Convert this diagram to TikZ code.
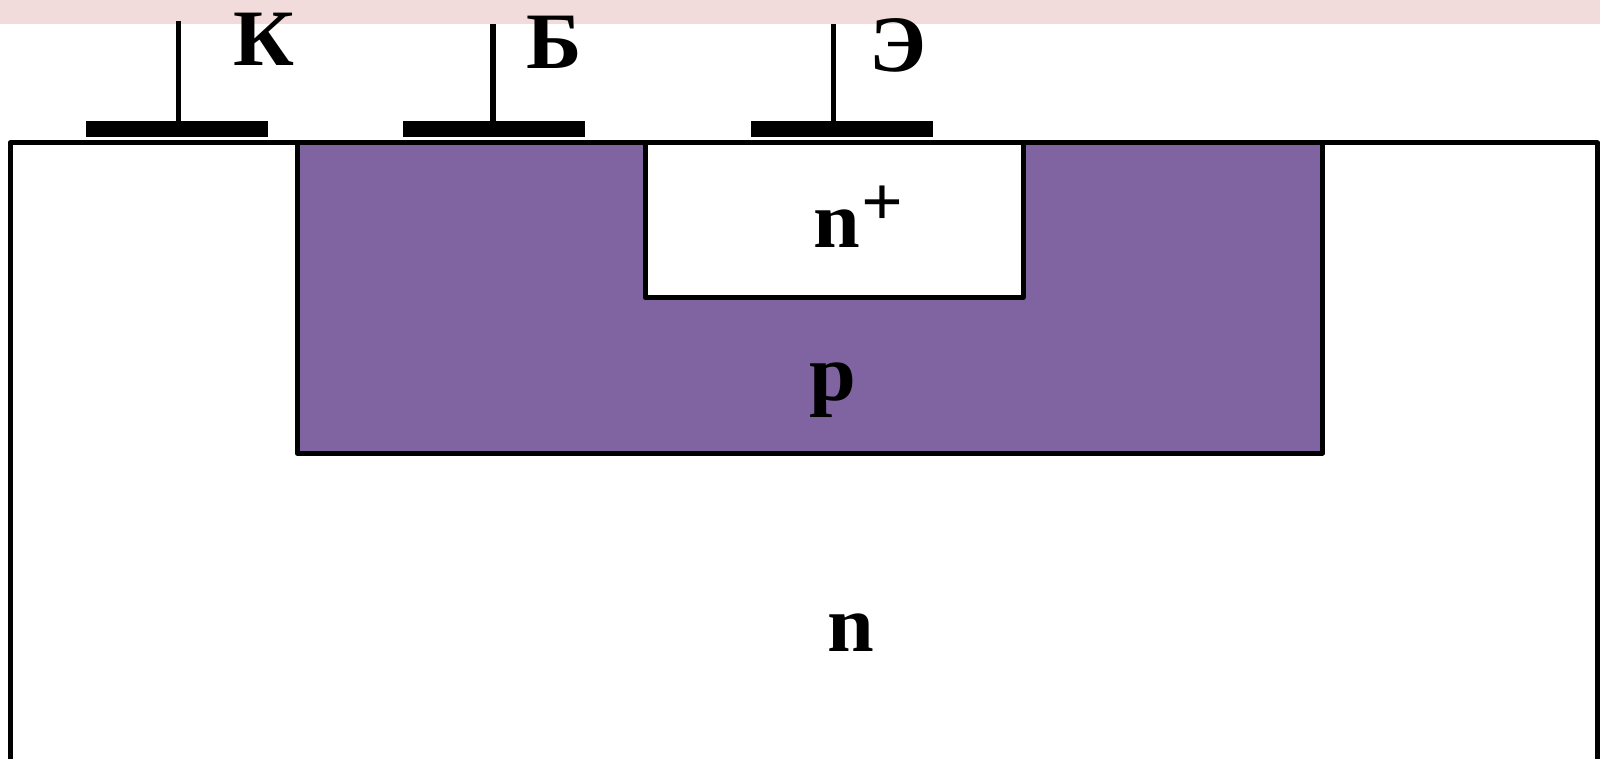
\documentclass[tikz,border=0pt]{standalone}
\usepackage{fontspec}
\setmainfont[FakeStretch=1.05]{Liberation Serif}
\definecolor{bandpink}{HTML}{F2DCDB}
\definecolor{basepurple}{HTML}{8064A2}

\begin{document}
\begin{tikzpicture}[x=1pt, y=-1pt, 
    region/.style = {draw, line width=5pt, line join=round, anchor=north west, inner sep=0pt, outer sep=0pt},
    contact/.style = {fill=black, inner sep=0pt, minimum width=182pt, minimum height=16pt},
    lead/.style = {line width=5.5pt},
    letter/.style = {inner sep=0pt, anchor=base, font=\fontsize{80}{80}\selectfont\bfseries}]
\useasboundingbox (0,0) rectangle (1600,759);
\fill[bandpink] (0,0) rectangle (1600,24);

\draw[line width=5pt, line join=round] (10,759) -- (10,143) -- (1597.5,143) -- (1597.5,759);
\node[region, fill=basepurple, minimum width=1025.5pt, minimum height=310pt] (base) at (297,143) {};
\node[region, fill=white, minimum width=378pt, minimum height=154.5pt] (emitter) at (645,143) {};

\node[contact] (contact1) at (176.5,129.5) {};
\node[contact] (contact2) at (494,129.5) {};
\node[contact] (contact3) at (841.5,129.5) {};
\coordinate (top1) at (178.5,21);
\coordinate (top2) at (492.8,24);
\coordinate (top3) at (833.3,24);

\draw[lead] (top1) -- (top1 |- contact1.north);
\draw[lead] (top2) -- (top2 |- contact2.north);
\draw[lead] (top3) -- (top3 |- contact3.north);

\node[letter] (k) at (264,66) {К};
\node[letter] (b) at (554,68.5) {Б};
\node[letter] (e) at (898,71.5) {Э};
\node[letter] (n1) at (836.5,248) {n};
\node[letter, font=\fontsize{70}{70}\selectfont\bfseries] (plus) at (882,226) {+};
\node[letter] (p) at (833,400) {p};
\node[letter] (n2) at (850.5,651) {n};
\end{tikzpicture}
\end{document}
